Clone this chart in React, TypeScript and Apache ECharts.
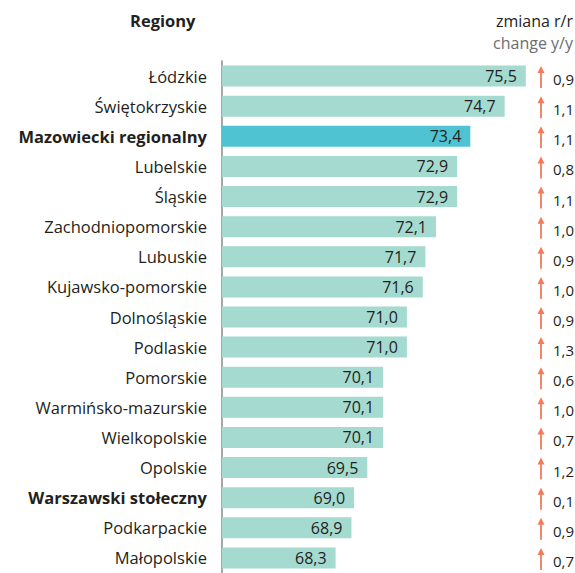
import React, { useEffect, useRef } from "react";
import * as echarts from "echarts";

const regions = [
  "Łódzkie",
  "Świętokrzyskie",
  "Mazowiecki regionalny",
  "Lubelskie",
  "Śląskie",
  "Zachodniopomorskie",
  "Lubuskie",
  "Kujawsko-pomorskie",
  "Dolnośląskie",
  "Podlaskie",
  "Pomorskie",
  "Warmińsko-mazurskie",
  "Wielkopolskie",
  "Opolskie",
  "Warszawski stołeczny",
  "Podkarpackie",
  "Małopolskie",
];
const values = [75.5, 74.7, 73.4, 72.9, 72.9, 72.1, 71.7, 71.6, 71.0, 71.0, 70.1, 70.1, 70.1, 69.5, 69.0, 68.9, 68.3];
const changes = [0.9, 1.1, 1.1, 0.8, 1.1, 1.0, 0.9, 1.0, 0.9, 1.3, 0.6, 1.0, 0.7, 1.2, 0.1, 0.9, 0.7];
const boldRegions = ["Mazowiecki regionalny", "Warszawski stołeczny"];
const highlighted = "Mazowiecki regionalny";

const FONT = "Open Sans";
const fmt = (v: number) => v.toFixed(1).replace(".", ",");

export default function App() {
  const ref = useRef<HTMLDivElement>(null);
  useEffect(() => {
    if (!ref.current) return;
    const chart = echarts.init(ref.current, null, { renderer: "svg" });
    const ARROW_X = 541;
    const TEXT_X = 553;
    chart.setOption({
      animation: false,
      textStyle: { fontFamily: FONT },
      grid: { left: 222, top: 61, width: 317, height: 517 },
      xAxis: {
        type: "value",
        min: 64,
        max: 76,
        show: false,
      },
      yAxis: {
        type: "category",
        data: regions,
        inverse: true,
        axisTick: { show: false },
        axisLine: { show: true, lineStyle: { color: "#8a8a8a", width: 1.5 } },
        axisLabel: {
          margin: 15,
          fontSize: 16.5,
          color: "#231f20",
          fontFamily: FONT,
          formatter: (v: string) => (boldRegions.includes(v) ? `{b|${v}}` : v),
          rich: { b: { fontWeight: "bold", fontSize: 16.5, color: "#231f20", fontFamily: FONT } },
        },
      },
      graphic: [
        {
          type: "text",
          left: 130,
          top: 12,
          style: { text: "Regiony", fontSize: 16.5, fontWeight: "bold", fill: "#231f20", fontFamily: FONT },
        },
        {
          type: "text",
          right: 2,
          top: 13,
          style: { text: "zmiana r/r", fontSize: 16, fill: "#231f20", fontFamily: FONT, align: "right" },
        },
        {
          type: "text",
          right: 2,
          top: 35,
          style: { text: "change y/y", fontSize: 16, fill: "#6d6e71", fontFamily: FONT, align: "right" },
        },
      ],
      series: [
        {
          type: "bar",
          barWidth: 21,
          data: values.map((v, i) => ({
            value: v,
            itemStyle: { color: regions[i] === highlighted ? "#4fc3d2" : "#a4dad0" },
          })),
          label: {
            show: true,
            position: "insideRight",
            distance: 9,
            fontSize: 16,
            color: "#231f20",
            fontFamily: FONT,
            formatter: (p: any) => fmt(p.value),
          },
        },
        {
          type: "custom",
          data: changes.map((c, i) => [i, c]),
          renderItem: (params: any, api: any) => {
            const idx = api.value(0);
            const y = api.coord([64, idx])[1];
            const color = "#f47a5a";
            return {
              type: "group",
              children: [
                {
                  type: "line",
                  shape: { x1: ARROW_X, y1: y - 5, x2: ARROW_X, y2: y + 12 },
                  style: { stroke: color, lineWidth: 1.8 },
                },
                {
                  type: "polygon",
                  shape: { points: [[ARROW_X - 3.5, y - 3], [ARROW_X + 3.5, y - 3], [ARROW_X, y - 10]] },
                  style: { fill: color },
                },
                {
                  type: "text",
                  x: TEXT_X,
                  y: y + 3,
                  style: {
                    text: fmt(api.value(1)),
                    fontSize: 15,
                    fill: "#231f20",
                    fontFamily: FONT,
                    verticalAlign: "middle",
                    align: "left",
                  },
                },
              ],
            };
          },
        },
      ],
    });
    return () => chart.dispose();
  }, []);
  return <div ref={ref} style={{ position: "absolute", left: 0, top: 0, width: 575, height: 573 }} />;
}
